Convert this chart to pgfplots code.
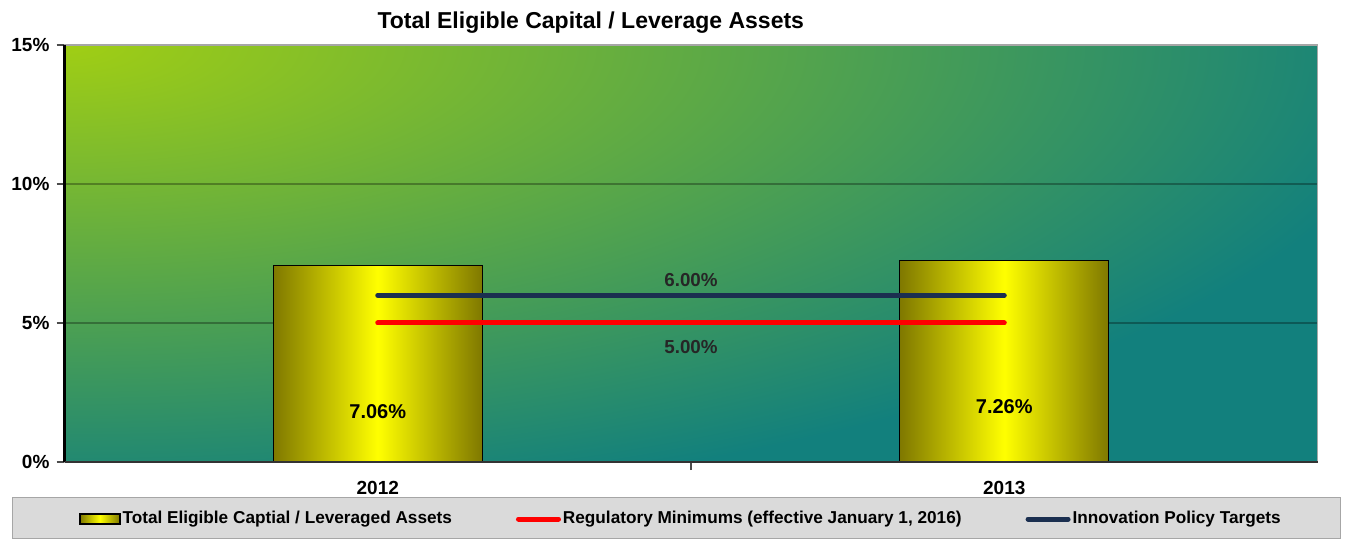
\documentclass[border=0pt]{standalone}
\usepackage{fontspec}
\setmainfont{Liberation Sans}
\usepackage{pgfplots}
\pgfplotsset{compat=1.18}

\definecolor{bggreen}{HTML}{A0CE14}
\definecolor{bgteal}{HTML}{12807D}
\definecolor{barolive}{HTML}{7F7800}
\definecolor{baryellow}{HTML}{FFFF00}
\definecolor{navyline}{HTML}{1B2F50}
\definecolor{legendgray}{HTML}{DADADA}

\pgfplotsset{
  barleg/.style={legend image code/.code={\draw[##1] (0pt,-2.5pt) rectangle (20pt,2.5pt);}},
  lineleg/.style={legend image code/.code={\draw[##1] (0pt,0pt) -- (20pt,0pt);}},
  yellowbar/.style={ybar, bar width=104.5pt, draw=black, line width=0.6pt,
    shade, left color=barolive, right color=barolive, middle color=baryellow,
    nodes near coords={\pgfmathprintnumber[fixed,fixed zerofill,precision=2]{\pgfplotspointmeta}\%},
    nodes near coords style={anchor=center, yshift=-73pt, text=black,
      font=\bfseries\fontsize{10}{12}\selectfont},
    barleg},
}

\begin{document}
\begin{tikzpicture}[x=1pt,y=1pt]
\path[use as bounding box] (0,0) rectangle (673.5,270);
% plot background: teal with a green glow from the top-left corner
\fill[bgteal] (32.25,39) rectangle (658.75,247.5);
\begin{scope}
  \clip (32.25,39) rectangle (658.75,247.5);
  \shade[inner color=bggreen, outer color=bgteal] (32.25,247.5) ellipse (680 and 235);
\end{scope}
% legend frame
\draw[gray!70, fill=legendgray] (6,1) rectangle (670,21.5);

\begin{axis}[
  at={(32.25pt,39pt)}, anchor=south west,
  width=626.5pt, height=208.5pt, scale only axis,
  xmin=-0.5, xmax=1.5, ymin=0, ymax=15,
  xtick={0,1}, xticklabels={2012,2013},
  minor xtick={0.5},
  ytick={0,5,10,15},
  yticklabel={\pgfmathprintnumber{\tick}\%},
  /pgf/number format/assume math mode=true,
  tick align=outside, major tick length=4pt, minor tick length=4pt,
  ytick pos=left, xtick pos=bottom,
  major x tick style={draw=none},
  minor x tick style={draw=black!70, line width=0.6pt},
  ytick style={draw=black!70, line width=0.6pt},
  tick label style={font=\bfseries\fontsize{9.5}{11}\selectfont},
  xticklabel style={yshift=-2pt},
  ymajorgrids, grid style={black, opacity=0.3, line width=0.6pt},
  axis line style={draw=gray!70, line width=0.6pt},
  title={Total Eligible Capital / Leverage Assets},
  title style={at={(0.42,1)}, anchor=center, yshift=5pt,
    font=\bfseries\fontsize{11.5}{13}\selectfont},
  legend columns=3,
  legend style={at={(0.492,-0.1367)}, anchor=center, draw=none, fill=none,
    font=\bfseries\fontsize{8.6}{10}\selectfont,
    inner sep=0pt, column sep=0pt, nodes={inner sep=1pt},
    /tikz/every even column/.append style={column sep=31pt}},
  after end axis/.code={
    \draw[black, line width=1.5pt] (rel axis cs:0,0) -- (rel axis cs:0,1);
    \draw[black!80, line width=0.8pt] (rel axis cs:0,0) -- (rel axis cs:1,0);
  },
]
\addplot[yellowbar] coordinates {(0,7.06)};
\addlegendentry{Total Eligible Captial / Leveraged Assets}
\addplot[yellowbar, forget plot] coordinates {(1,7.26)};

\addplot[red, line width=2.5pt, line cap=round, lineleg]
  coordinates {(0,5) (1,5)};
\addlegendentry{Regulatory Minimums (effective January 1, 2016)}

\addplot[navyline, line width=2.5pt, line cap=round, lineleg]
  coordinates {(0,6) (1,6)};
\addlegendentry{Innovation Policy Targets}

% line value labels
\addplot[draw=none, forget plot, nodes near coords, point meta=explicit symbolic,
  nodes near coords style={anchor=center, yshift=7.5pt, text=black!85,
    font=\bfseries\fontsize{9.4}{11}\selectfont}]
  coordinates {(0.5,6) [6.00\%]};
\addplot[draw=none, forget plot, nodes near coords, point meta=explicit symbolic,
  nodes near coords style={anchor=center, yshift=-12pt, text=black!85,
    font=\bfseries\fontsize{9.4}{11}\selectfont}]
  coordinates {(0.5,5) [5.00\%]};
\end{axis}
\end{tikzpicture}
\end{document}
